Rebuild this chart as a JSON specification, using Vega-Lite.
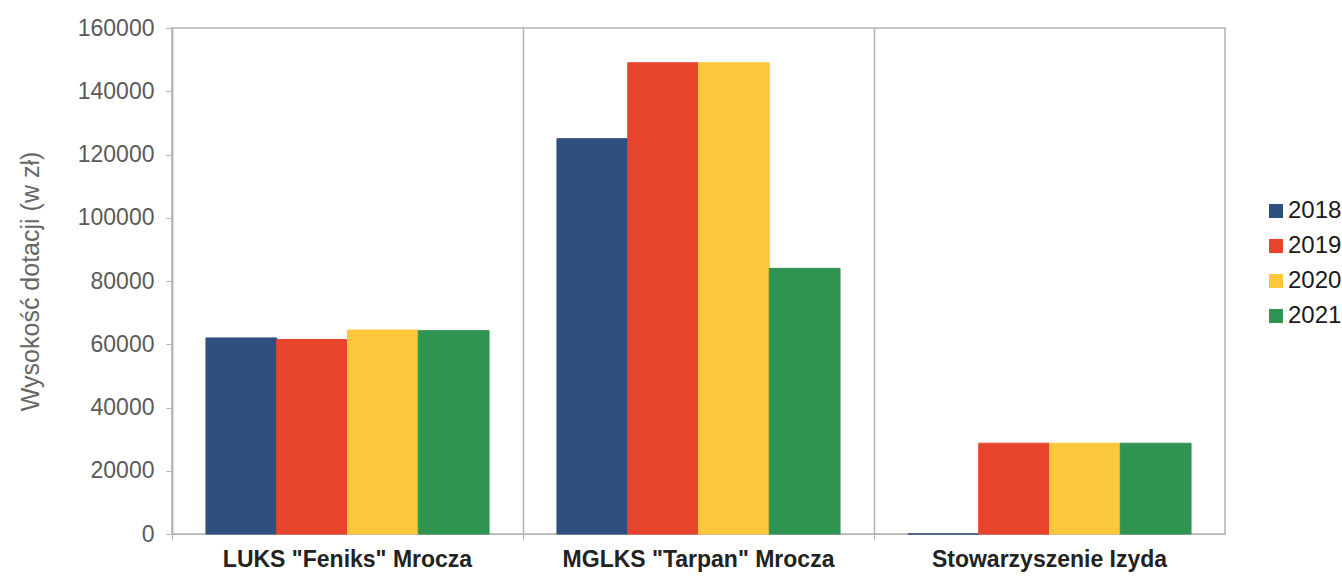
{
  "$schema": "https://vega.github.io/schema/vega-lite/v6.json",
  "autosize": "none",
  "padding": {"left": 172, "top": 28, "right": 117, "bottom": 46},
  "width": 1053,
  "height": 506,
  "background": "white",
  "config": {
    "font": "Liberation Sans",
    "view": {"stroke": "#b3b3b3", "strokeWidth": 1.5}
  },
  "data": {
    "values": [
      {"org": "LUKS \"Feniks\" Mrocza", "year": "2018", "value": 62000},
      {"org": "LUKS \"Feniks\" Mrocza", "year": "2019", "value": 61500},
      {"org": "LUKS \"Feniks\" Mrocza", "year": "2020", "value": 64500},
      {"org": "LUKS \"Feniks\" Mrocza", "year": "2021", "value": 64300},
      {"org": "MGLKS \"Tarpan\" Mrocza", "year": "2018", "value": 125000},
      {"org": "MGLKS \"Tarpan\" Mrocza", "year": "2019", "value": 149000},
      {"org": "MGLKS \"Tarpan\" Mrocza", "year": "2020", "value": 149000},
      {"org": "MGLKS \"Tarpan\" Mrocza", "year": "2021", "value": 84000},
      {"org": "Stowarzyszenie Izyda", "year": "2018", "value": 0},
      {"org": "Stowarzyszenie Izyda", "year": "2019", "value": 28700},
      {"org": "Stowarzyszenie Izyda", "year": "2020", "value": 28700},
      {"org": "Stowarzyszenie Izyda", "year": "2021", "value": 28700}
    ]
  },
  "mark": {"type": "bar", "strokeWidth": 1},
  "encoding": {
    "x": {
      "field": "org",
      "type": "nominal",
      "sort": null,
      "scale": {"paddingInner": 0, "paddingOuter": 0},
      "axis": {
        "title": null,
        "labelAngle": 0,
        "labelFontSize": 23,
        "labelFontWeight": "bold",
        "labelColor": "#222222",
        "labelLimit": 0,
        "labelPadding": 8,
        "bandPosition": 0,
        "tickSize": 6,
        "tickColor": "#b3b3b3",
        "domainColor": "#b3b3b3",
        "grid": true,
        "gridColor": "#b3b3b3",
        "gridWidth": 1.5
      }
    },
    "xOffset": {
      "field": "year",
      "type": "nominal",
      "scale": {"paddingInner": 0, "paddingOuter": 0.48}
    },
    "y": {
      "field": "value",
      "type": "quantitative",
      "scale": {"domain": [0, 160000]},
      "axis": {
        "title": "Wysokość dotacji (w zł)",
        "titleFontSize": 25,
        "titleFontWeight": "normal",
        "titleColor": "#666666",
        "titlePadding": 34,
        "values": [0, 20000, 40000, 60000, 80000, 100000, 120000, 140000, 160000],
        "format": "d",
        "labelFontSize": 23,
        "labelColor": "#5a5a5a",
        "labelPadding": 12,
        "tickSize": 6,
        "tickColor": "#b3b3b3",
        "domainColor": "#b3b3b3",
        "domainWidth": 1.5,
        "grid": false
      }
    },
    "color": {
      "field": "year",
      "type": "nominal",
      "scale": {
        "domain": ["2018", "2019", "2020", "2021"],
        "range": ["#2f4f7e", "#e8432b", "#fcc83b", "#2f9352"]
      },
      "legend": {
        "title": null,
        "orient": "none",
        "legendX": 1092,
        "legendY": 171,
        "symbolType": "square",
        "symbolSize": 196,
        "symbolStrokeWidth": 0,
        "labelFontSize": 24,
        "labelColor": "#1a1a1a",
        "labelOffset": 0,
        "rowPadding": 11
      }
    },
    "stroke": {
      "field": "year",
      "type": "nominal",
      "scale": {
        "domain": ["2018", "2019", "2020", "2021"],
        "range": ["#2f4f7e", "#e8432b", "#fcc83b", "#2f9352"]
      },
      "legend": null
    }
  }
}
